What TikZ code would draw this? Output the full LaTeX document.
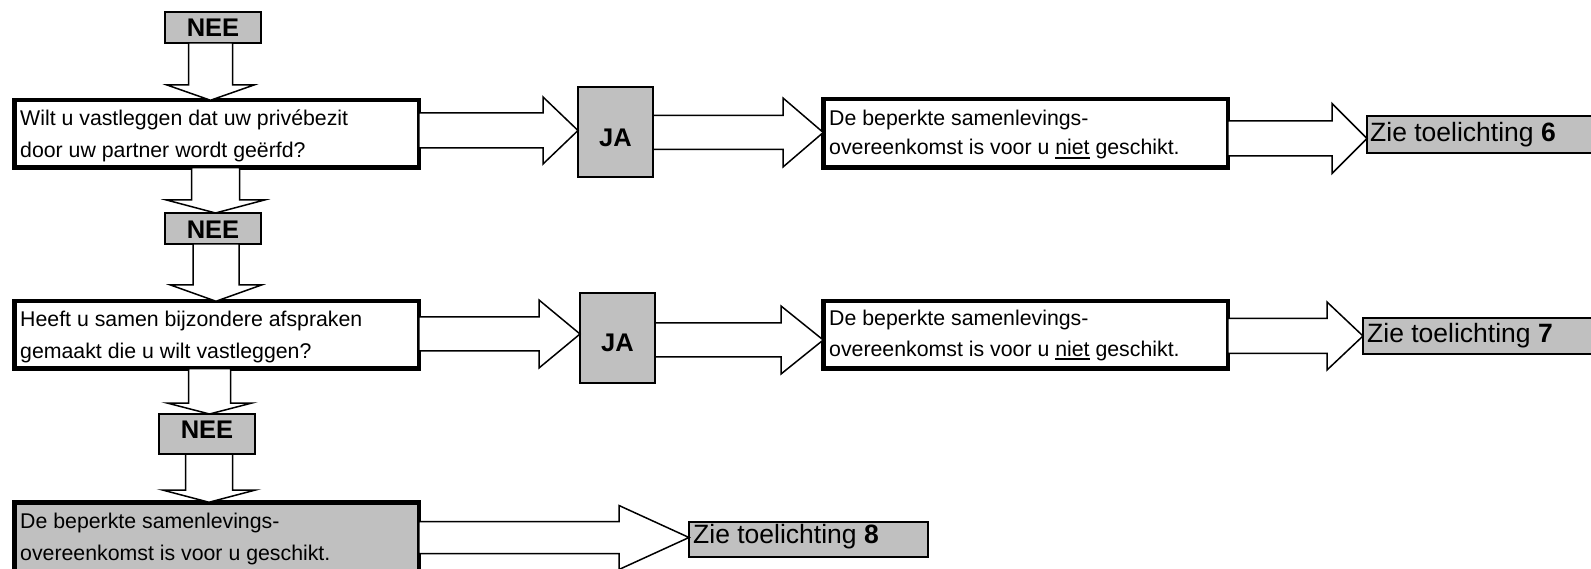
\documentclass[tikz,border=0pt]{standalone}
\usepackage{fontspec}
\setmainfont{Liberation Sans}
\usetikzlibrary{fit}
\definecolor{boxgray}{HTML}{C0C0C0}
\newcommand\myul[1]{\setbox0=\hbox{#1}\rlap{\rule[-4pt]{\wd0}{1.8pt}}\box0\relax}
% right block arrow: src, dst, y-centre, shaft half, head half, head base x
\newcommand\rarrow[6]{\filldraw[blockarr] (#1.east |- 0,#3-#4) -- (#6,#3-#4) -- (#6,#3-#5) -- (#2.west |- 0,#3) -- (#6,#3+#5) -- (#6,#3+#4) -- (#1.east |- 0,#3+#4) -- cycle;}
% down block arrow: src, dst, x-centre, shaft half, head half, head base y
\newcommand\darrow[6]{\filldraw[blockarr] (#1.south -| #3-#4,0) -- (#3-#4,#6) -- (#3-#5,#6) -- (#2.north -| #3,0) -- (#3+#5,#6) -- (#3+#4,#6) -- (#1.south -| #3+#4,0) -- cycle;}
\begin{document}
\begin{tikzpicture}[x=1pt,y=-1pt,
  thickbox/.style={draw=black, line width=4.5pt, fill=white, inner sep=0pt, outer sep=0pt},
  thinbox/.style={draw=black, line width=2pt, fill=boxgray, inner sep=0pt, outer sep=0pt},
  lbl/.style={anchor=base west, inner sep=0pt, font=\fontsize{21.3pt}{26pt}\selectfont},
  zie/.style={anchor=base west, inner sep=0pt, font=\fontsize{26.5pt}{30pt}\selectfont},
  boldtxt/.style={anchor=base, inner sep=0pt, font=\fontsize{25.5pt}{30pt}\selectfont\bfseries},
  blockarr/.style={fill=white, draw=black, line width=1.5pt, line join=miter}]
\useasboundingbox (0,0) rectangle (1591,569);
\clip (0,0) rectangle (1591,569);

% boxes
\node[thinbox, fit={(165,12) (261,43)}] (n1) {};
\node[thickbox, fit={(14.25,100.25) (418.75,167.75)}] (b1) {};
\node[thinbox, fit={(165,213) (261,244)}] (n2) {};
\node[thickbox, fit={(14.25,301.25) (418.75,368.75)}] (b2) {};
\node[thinbox, fit={(159,414) (255,454)}] (n3) {};
\node[thickbox, fill=boxgray, fit={(14.25,502.25) (418.75,600)}] (b3) {};

\node[thinbox, fit={(578,87) (653,177)}] (ja1) {};
\node[thinbox, fit={(580,293) (655,383)}] (ja2) {};

\node[thickbox, fit={(823.25,99.25) (1227.75,167.75)}] (r1) {};
\node[thickbox, fit={(823.25,301.25) (1227.75,368.75)}] (r2) {};

\node[thinbox, fit={(1367,116) (1620,153)}] (z6) {};
\node[thinbox, fit={(1363,318) (1620,354)}] (z7) {};
\node[thinbox, fit={(689,522) (928,557)}] (z8) {};

% arrows
\darrow{n1}{b1}{210.5}{22}{43.5}{85}
\darrow{b1}{n2}{215.5}{24}{49}{200}
\darrow{n2}{b2}{216}{23}{45.5}{285}
\darrow{b2}{n3}{209.5}{21}{42.5}{403}
\darrow{n3}{b3}{209}{23.5}{46.5}{490}

\rarrow{b1}{ja1}{130.5}{17.5}{33.5}{543}
\rarrow{ja1}{r1}{132.5}{17}{34.5}{783}
\rarrow{r1}{z6}{138.5}{17.5}{35}{1332}
\rarrow{b2}{ja2}{334}{17}{34}{539}
\rarrow{ja2}{r2}{340}{17}{34}{781}
\rarrow{r2}{z7}{336}{17.5}{34}{1327}
\rarrow{b3}{z8}{537.5}{16}{32}{619}

% texts
\node[boldtxt] (n1t) at (213,37) {NEE};
\node[boldtxt] (n2t) at (213,239) {NEE};
\node[boldtxt] (n3t) at (207,438) {NEE};
\node[boldtxt] (ja1t) at (615.5,147) {JA};
\node[boldtxt] (ja2t) at (617.5,352) {JA};

\node[lbl] (t1a) at (20,126) {Wilt u vastleggen dat uw privébezit};
\node[lbl] (t1b) at (20,158) {door uw partner wordt geërfd?};
\node[lbl] (t2a) at (20,327) {Heeft u samen bijzondere afspraken};
\node[lbl] (t2b) at (20,359) {gemaakt die u wilt vastleggen?};
\node[lbl] (t3a) at (20,528) {De beperkte samenlevings-};
\node[lbl] (t3b) at (20,560) {overeenkomst is voor u geschikt.};

\node[lbl] (r1a) at (829,126) {De beperkte samenlevings-};
\node[lbl] (r1b) at (829,155) {overeenkomst is voor u \myul{niet} geschikt.};
\node[lbl] (r2a) at (829,326) {De beperkte samenlevings-};
\node[lbl] (r2b) at (829,356) {overeenkomst is voor u \myul{niet} geschikt.};

\node[zie] (z6t) at (1370,142) {Zie toelichting \textbf{6}};
\node[zie] (z7t) at (1367,343) {Zie toelichting \textbf{7}};
\node[zie] (z8t) at (693,543) {Zie toelichting \textbf{8}};
\end{tikzpicture}
\end{document}
